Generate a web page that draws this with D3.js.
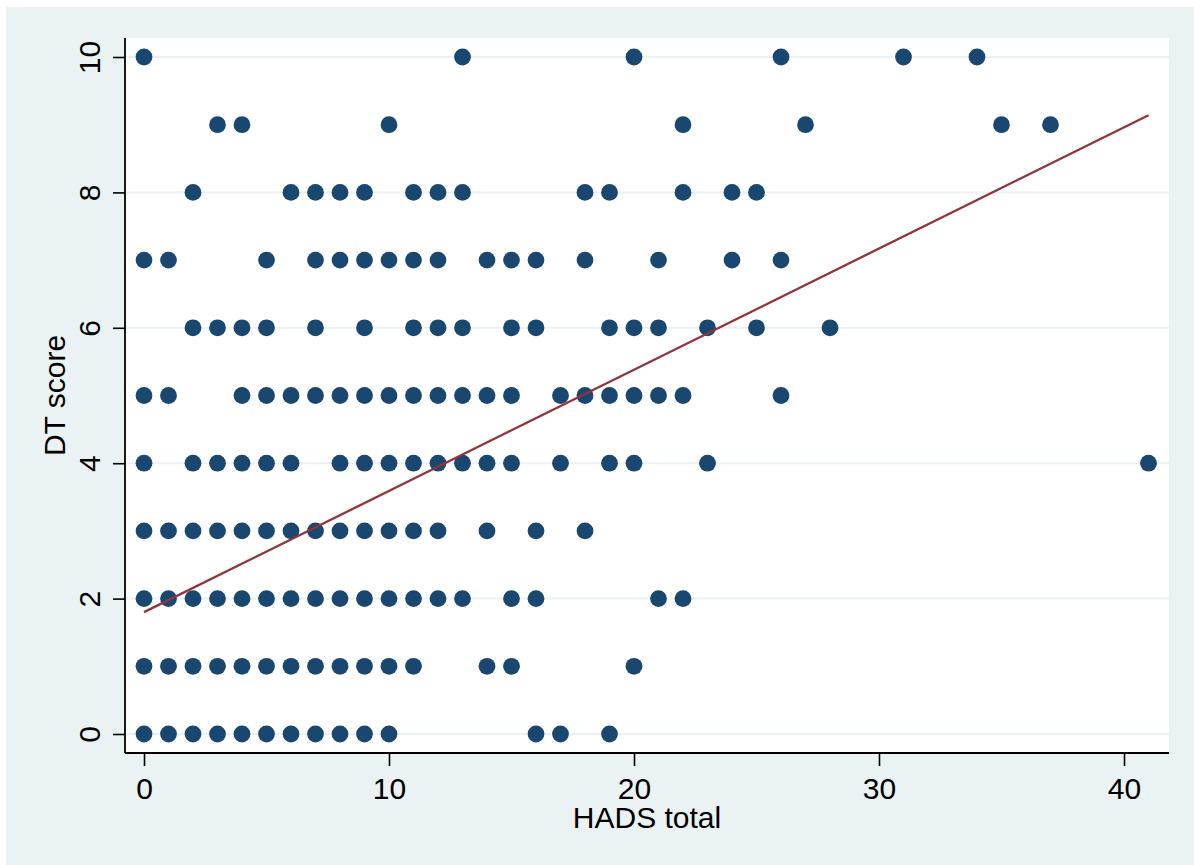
<!DOCTYPE html>
<html>
<head>
<meta charset="utf-8">
<script src="https://cdn.jsdelivr.net/npm/d3@7"></script>
<style>
  body { margin: 0; background: #fff; }
  text { font-family: "Liberation Sans", Arial, sans-serif; fill: #000; }
</style>
</head>
<body>
<svg id="svg_scatter" width="1194" height="865"></svg>
<script>
// DT score levels and the HADS totals observed at each level
var dtLevels = [0, 1, 2, 3, 4, 5, 6, 7, 8, 9, 10];
var hadsAtLevel = [
  [0, 1, 2, 3, 4, 5, 6, 7, 8, 9, 10, 16, 17, 19],
  [0, 1, 2, 3, 4, 5, 6, 7, 8, 9, 10, 11, 14, 15, 20],
  [0, 1, 2, 3, 4, 5, 6, 7, 8, 9, 10, 11, 12, 13, 15, 16, 21, 22],
  [0, 1, 2, 3, 4, 5, 6, 7, 8, 9, 10, 11, 12, 14, 16, 18],
  [0, 2, 3, 4, 5, 6, 8, 9, 10, 11, 12, 13, 14, 15, 17, 19, 20, 23, 41],
  [0, 1, 4, 5, 6, 7, 8, 9, 10, 11, 12, 13, 14, 15, 17, 18, 19, 20, 21, 22, 26],
  [2, 3, 4, 5, 7, 9, 11, 12, 13, 15, 16, 19, 20, 21, 23, 25, 28],
  [0, 1, 5, 7, 8, 9, 10, 11, 12, 14, 15, 16, 18, 21, 24, 26],
  [2, 6, 7, 8, 9, 11, 12, 13, 18, 19, 22, 24, 25],
  [3, 4, 10, 22, 27, 35, 37],
  [0, 13, 20, 26, 31, 34]
];

// fitted line end points (HADS total, DT score)
var fitX = [0, 41];
var fitY = [1.80, 9.14];

var xTicks = [0, 10, 20, 30, 40];
var yTicks = [0, 2, 4, 6, 8, 10];
var x_label = "HADS total", y_label = "DT score";

var points = [];
dtLevels.forEach(function(lvl, i){
  hadsAtLevel[i].forEach(function(h){
    points.push({hads: h, dt: lvl});
  });
});

function draw(){
  var svg = d3.select("svg#svg_scatter"),
  plot = {left: 125, right: 1169, top: 38, bottom: 753},
  inset = 19,
  fontSize = "30px";

  // outer graph region
  svg.append("rect")
    .attr("x", 6).attr("y", 7)
    .attr("width", 1194 - 6).attr("height", 865 - 7)
    .attr("fill", "#eaf2f3");

  // plot region
  svg.append("rect")
    .attr("x", plot.left).attr("y", plot.top)
    .attr("width", plot.right - plot.left).attr("height", plot.bottom - plot.top)
    .attr("fill", "#fff");

  var x = d3.scaleLinear()
    .domain([0, 40])
    .range([plot.left + inset, plot.right - 45]);

  var y = d3.scaleLinear()
    .domain([0, 10])
    .range([plot.bottom - inset, plot.top + inset]);

  // GRID
  svg.append("g")
    .selectAll("line")
    .data(yTicks)
    .enter()
    .append("line")
    .attr("x1", plot.left).attr("x2", plot.right)
    .attr("y1", function(d){ return y(d); })
    .attr("y2", function(d){ return y(d); })
    .attr("stroke", "#eaf2f3")
    .attr("stroke-width", 2);

  // AXES
  var xAxis = d3.axisBottom(x)
    .tickValues(xTicks)
    .tickSize(13)
    .tickPadding(12);

  var yAxis = d3.axisLeft(y)
    .tickValues(yTicks)
    .tickSize(12);

  svg.append("g")
    .attr("transform", "translate(0," + plot.bottom + ")")
    .call(xAxis)
    .call(function(g){
      g.select(".domain").remove();
      g.selectAll(".tick line").attr("stroke", "#000").attr("stroke-width", 1.6);
      g.selectAll(".tick text").style("font-size", fontSize)
        .style("font-family", "'Liberation Sans', Arial, sans-serif").attr("fill", "#000");
    });

  svg.append("g")
    .attr("transform", "translate(" + plot.left + ",0)")
    .call(yAxis)
    .call(function(g){
      g.select(".domain").remove();
      g.selectAll(".tick line").attr("stroke", "#000").attr("stroke-width", 1.6);
      g.selectAll(".tick text")
        .attr("transform", "rotate(-90)")
        .attr("x", 0).attr("y", -25).attr("dy", 0)
        .attr("text-anchor", "middle")
        .style("font-size", fontSize)
        .style("font-family", "'Liberation Sans', Arial, sans-serif").attr("fill", "#000");
    });

  // axis lines
  svg.append("line")
    .attr("x1", plot.left).attr("x2", plot.left)
    .attr("y1", plot.top).attr("y2", plot.bottom)
    .attr("stroke", "#000").attr("stroke-width", 1.8);
  svg.append("line")
    .attr("x1", plot.left).attr("x2", plot.right)
    .attr("y1", plot.bottom).attr("y2", plot.bottom)
    .attr("stroke", "#000").attr("stroke-width", 1.8);

  // titles
  svg.append("text")
    .attr("x", (plot.left + plot.right) / 2).attr("y", 828)
    .attr("text-anchor", "middle")
    .style("font-size", fontSize)
    .text(x_label);

  svg.append("text")
    .attr("transform", "translate(65," + (plot.top + plot.bottom) / 2 + ") rotate(-90)")
    .attr("text-anchor", "middle")
    .style("font-size", fontSize)
    .text(y_label);

  // POINTS
  svg.append("g")
    .selectAll("circle")
    .data(points)
    .enter()
    .append("circle")
    .attr("r", 8.4)
    .attr("fill", "#1a476f")
    .attr("cx", function(d){ return x(d.hads); })
    .attr("cy", function(d){ return y(d.dt); });

  // FIT LINE
  var line = d3.line()
    .x(function(d){ return x(d[0]); })
    .y(function(d){ return y(d[1]); });

  svg.append("path")
    .datum(d3.zip(fitX, fitY))
    .attr("d", line)
    .attr("fill", "none")
    .attr("stroke", "#90353b")
    .attr("stroke-width", 2.3);
}

draw();
</script>
</body>
</html>
